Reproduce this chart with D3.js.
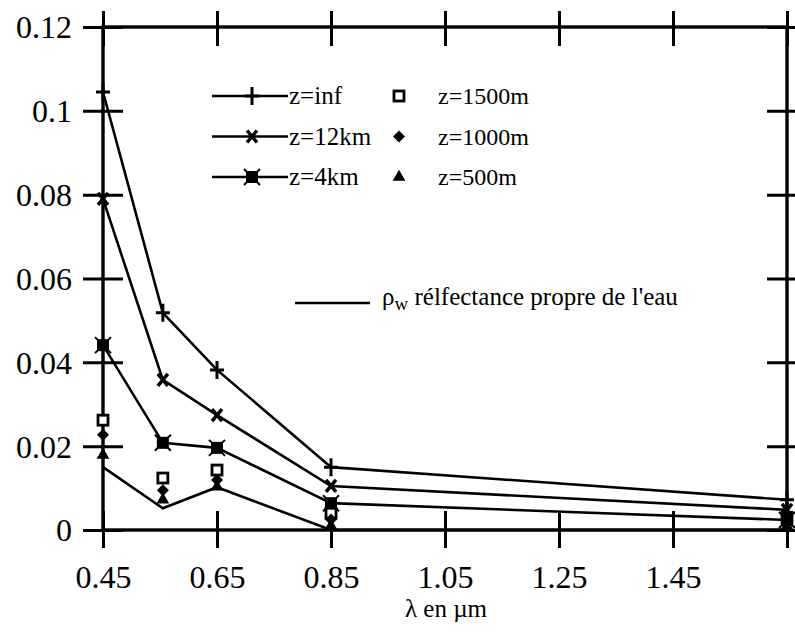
<!DOCTYPE html>
<html>
<head>
<meta charset="utf-8">
<script src="https://cdn.jsdelivr.net/npm/d3@7"></script>
<style>
  body { margin: 0; background: #fff; }
</style>
</head>
<body>
<svg id="chart" width="795" height="633"></svg>
<script>
// wavelengths (micrometres)
const wavelengths = [0.45, 0.555, 0.65, 0.85, 1.65];

// lines with markers
const zInf  = [0.1045, 0.0518, 0.0382, 0.0150, 0.0072];
const z12km = [0.0790, 0.0358, 0.0274, 0.0105, 0.0048];
const z4km  = [0.0441, 0.0208, 0.0196, 0.0064, 0.0024];
// markers only
const z1500 = [0.0262, 0.0124, 0.0143, 0.0040, 0.0030];
const z1000 = [0.0227, 0.0095, 0.0119, 0.0025, 0.0020];
const z500  = [0.0179, 0.0072, 0.0103, 0.0010, 0.0010];
// water reflectance, plain line
const rhoW  = [0.0150, 0.0052, 0.0102, 0.0000, 0.0000];

const xTicks = [0.45, 0.65, 0.85, 1.05, 1.25, 1.45, 1.65];
const xTickLabels = ["0.45", "0.65", "0.85", "1.05", "1.25", "1.45", ""];
const yTicks = [0, 0.02, 0.04, 0.06, 0.08, 0.1, 0.12];
const yTickLabels = ["0", "0.02", "0.04", "0.06", "0.08", "0.1", "0.12"];

const serif = "'Liberation Serif', 'DejaVu Serif', serif";

const svg = d3.select('#chart');

const x = d3.scaleLinear().domain([0.45, 1.65]).range([103, 787]);
const y = d3.scaleLinear().domain([0, 0.12]).range([530, 27]);

// marker shapes, drawn around (0,0)
const markers = {
  plus: g => {
    g.append('path').attr('d', 'M-7,0H7M0,-9V9')
      .attr('stroke', '#000').attr('stroke-width', 3).attr('fill', 'none');
  },
  cross: g => {
    g.append('path').attr('d', 'M-5,-6L5,6M-5,6L5,-6')
      .attr('stroke', '#000').attr('stroke-width', 3.5).attr('fill', 'none');
  },
  star: g => {
    g.append('rect').attr('x', -6).attr('y', -6).attr('width', 12).attr('height', 12).attr('fill', '#000');
    g.append('path').attr('d', 'M-8,-8L8,8M-8,8L8,-8')
      .attr('stroke', '#000').attr('stroke-width', 2).attr('fill', 'none');
  },
  square: g => {
    g.append('rect').attr('x', -5).attr('y', -5).attr('width', 10).attr('height', 10)
      .attr('fill', '#fff').attr('stroke', '#000').attr('stroke-width', 2.8);
  },
  diamond: g => {
    g.append('path').attr('d', 'M0,-6L6,0L0,6L-6,0Z').attr('fill', '#000');
  },
  triangle: g => {
    g.append('path').attr('d', d3.symbol(d3.symbolTriangle, 70)()).attr('fill', '#000');
  }
};

// axes: ticks cross the frame
const frame = svg.append('g');

const leftAxis = frame.append('g').attr('transform', 'translate(103,0)')
  .call(d3.axisLeft(y).tickValues(yTicks).tickFormat((d, i) => yTickLabels[i]).tickSizeOuter(0))
  .attr('font-family', serif);
leftAxis.select('.domain').remove();
leftAxis.selectAll('.tick line').attr('x1', -20).attr('x2', 20).attr('stroke-width', 3);
leftAxis.selectAll('.tick text').attr('x', -31).attr('dy', '0.34em')
  .attr('font-size', 32);

const rightAxis = frame.append('g').attr('transform', 'translate(787,0)')
  .call(d3.axisRight(y).tickValues(yTicks).tickFormat('').tickSizeOuter(0));
rightAxis.select('.domain').remove();
rightAxis.selectAll('.tick line').attr('x1', -20).attr('x2', 20).attr('stroke-width', 3);

const bottomAxis = frame.append('g').attr('transform', 'translate(0,530)')
  .call(d3.axisBottom(x).tickValues(xTicks).tickFormat((d, i) => xTickLabels[i]).tickSizeOuter(0))
  .attr('font-family', serif);
bottomAxis.select('.domain').remove();
bottomAxis.selectAll('.tick line').attr('y1', -19).attr('y2', 18).attr('stroke-width', 3);
bottomAxis.selectAll('.tick text').attr('y', 35).attr('dy', '0.71em')
  .attr('font-size', 32);

const topAxis = frame.append('g').attr('transform', 'translate(0,27)')
  .call(d3.axisTop(x).tickValues(xTicks).tickFormat('').tickSizeOuter(0));
topAxis.select('.domain').remove();
topAxis.selectAll('.tick line').attr('y1', -16).attr('y2', 19).attr('stroke-width', 3);

frame.append('rect')
  .attr('x', x(0.45)).attr('y', y(0.12))
  .attr('width', x(1.65) - x(0.45)).attr('height', y(0) - y(0.12))
  .attr('fill', 'none').attr('stroke', '#000').attr('stroke-width', 3.4);

// data lines
const line = d3.line().x(d => x(d[0])).y(d => y(d[1]));
const lineSeries = [zInf, z12km, z4km, rhoW];
lineSeries.forEach(values => {
  svg.append('path')
    .datum(wavelengths.map((w, i) => [w, values[i]]))
    .attr('d', line)
    .attr('fill', 'none').attr('stroke', '#000').attr('stroke-width', 2.6);
});

const markerSeries = [
  { values: z1500, marker: 'square' },
  { values: z1000, marker: 'diamond' },
  { values: z500,  marker: 'triangle' },
  { values: zInf,  marker: 'plus' },
  { values: z12km, marker: 'cross' },
  { values: z4km,  marker: 'star' }
];
markerSeries.forEach(s => {
  wavelengths.forEach((w, i) => {
    const g = svg.append('g').attr('transform', `translate(${x(w)},${y(s.values[i])})`);
    markers[s.marker](g);
  });
});

// legend
const legend = svg.append('g').attr('font-family', serif).attr('font-size', 25);
const legendRows = [
  { label: 'z=inf',  marker: 'plus',  label2: 'z=1500m', marker2: 'square' },
  { label: 'z=12km', marker: 'cross', label2: 'z=1000m', marker2: 'diamond' },
  { label: 'z=4km',  marker: 'star',  label2: 'z=500m',  marker2: 'triangle' }
];
legendRows.forEach((r, i) => {
  const ly = 96 + i * 40.5;
  legend.append('line').attr('x1', 212).attr('x2', 288).attr('y1', ly).attr('y2', ly)
    .attr('stroke', '#000').attr('stroke-width', 2.6);
  markers[r.marker](legend.append('g').attr('transform', `translate(252,${ly})`));
  legend.append('text').attr('x', 289).attr('y', ly + 8).text(r.label);
  markers[r.marker2](legend.append('g').attr('transform', `translate(399,${ly})`));
  legend.append('text').attr('x', 438).attr('y', ly + 8).attr('font-size', 24).text(r.label2);
});

legend.append('line').attr('x1', 295).attr('x2', 370).attr('y1', 303).attr('y2', 303)
  .attr('stroke', '#000').attr('stroke-width', 2.6);
const rhoText = legend.append('text').attr('x', 382).attr('y', 305).attr('font-size', 25);
rhoText.append('tspan').text('ρ');
rhoText.append('tspan').attr('dy', 5).attr('font-size', 19).text('w');
rhoText.append('tspan').attr('dy', -5).text(' rélfectance propre de l\'eau');

// x axis title
svg.append('text').attr('x', 446).attr('y', 617).attr('text-anchor', 'middle')
  .attr('font-family', serif).attr('font-size', 25).text('λ en µm');
</script>
</body>
</html>
